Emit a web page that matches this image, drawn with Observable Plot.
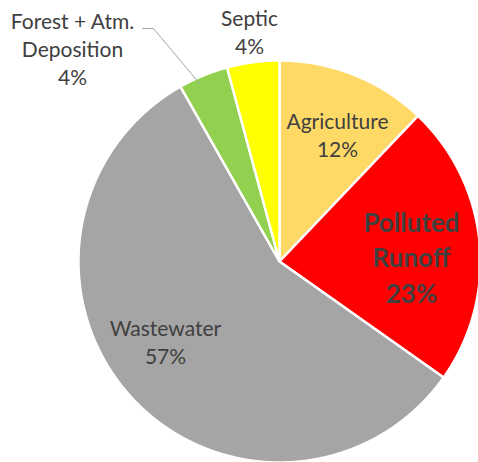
<!DOCTYPE html>
<html><head><meta charset="utf-8">
<script src="https://cdn.jsdelivr.net/npm/d3@7"></script>
<script src="https://cdn.jsdelivr.net/npm/@observablehq/plot@0.6"></script>
<style>body{margin:0;background:#fff;overflow:hidden}</style>
</head><body><div id="chart"></div>
<script>
// ---- data ----
const categories = ["Agriculture", "Polluted Runoff", "Wastewater", "Forest + Atm. Deposition", "Septic"];
const shares = [12.1, 22.7, 57.0, 4.0, 4.2];
const colors = ["#FFD966", "#FF0000", "#A5A5A5", "#92D050", "#FFFF00"];
const labelLines = [["Agriculture"], ["Polluted", "Runoff"], ["Wastewater"], ["Forest + Atm.", "Deposition"], ["Septic"]];
const boldLabel = [false, true, false, false, false];

// ---- layout ----
const W = 478, H = 462, CX = 279, CY = 261, R = 201;
// baseline of the last label line, in pixels
const labelAt = [[337, 156], [411, 302], [165, 363], [72, 84], [249, 53]];
const leaderPx = [[142, 28], [153, 28], [199, 83]];
const toU = ([px, py]) => ({x: (px - CX) / R, y: (CY - py) / R});

const pie = d3.pie().sort(null).value(d => d)(shares);
const pts = [];
pie.forEach((p, i) => {
  const c = categories[i];
  pts.push({c, x: 0, y: 0});
  const n = Math.max(2, Math.ceil((p.endAngle - p.startAngle) / 0.005));
  for (let k = 0; k <= n; k++) {
    const a = p.startAngle + (p.endAngle - p.startAngle) * k / n;
    pts.push({c, x: Math.sin(a), y: Math.cos(a)});
  }
  pts.push({c, x: 0, y: 0});
});

const labels = categories.map((c, i) => ({
  ...toU(labelAt[i]),
  text: labelLines[i].join("\n") + "\n" + Math.round(shares[i]) + "%",
  bold: boldLabel[i]
}));
const leader = leaderPx.map(toU);

const chart = Plot.plot({
  width: W, height: H, margin: 0,
  style: {fontFamily: "Lato, sans-serif", background: "#fff"},
  x: {domain: [-CX / R, (W - CX) / R], axis: null},
  y: {domain: [-(H - CY) / R, CY / R], axis: null},
  color: {domain: categories, range: colors},
  marks: [
    Plot.line(pts, {x: "x", y: "y", z: "c", fill: "c", stroke: "white", strokeWidth: 2.5, strokeLinejoin: "round", curve: "linear"}),
    Plot.line(leader, {x: "x", y: "y", stroke: "#A6A6A6", strokeWidth: 1}),
    Plot.text(labels.filter(d => !d.bold), {x: "x", y: "y", text: "text", lineAnchor: "bottom", lineHeight: 1.33, fontSize: 21, fill: "#404040"}),
    Plot.text(labels.filter(d => d.bold), {x: "x", y: "y", text: "text", lineAnchor: "bottom", lineHeight: 1.35, fontSize: 26, fontWeight: "bold", fill: "#404040"})
  ]
});
document.getElementById("chart").appendChild(chart);
</script>
</body></html>
